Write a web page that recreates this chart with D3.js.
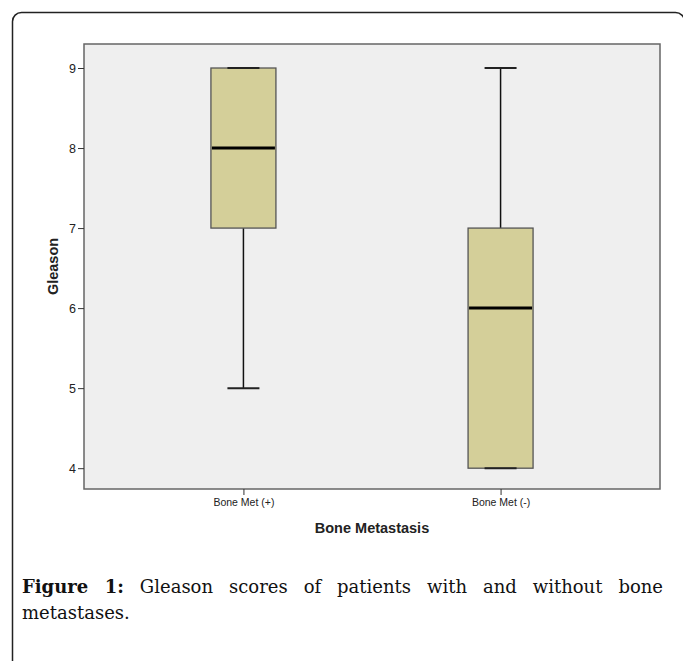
<!DOCTYPE html>
<html>
<head>
<meta charset="utf-8">
<script src="https://cdn.jsdelivr.net/npm/d3@7"></script>
<style>
  body { margin: 0; background: #fff; }
  #wrap { position: relative; width: 683px; height: 661px; overflow: hidden; }
  #chart { position: absolute; left: 0; top: 0; }
  .caption {
    position: absolute; left: 22px; width: 641px;
    font-family: "DejaVu Serif", "Liberation Serif", serif;
    font-size: 18px; color: #111; line-height: 26px;
  }
  .caption .l1 { text-align: justify; text-align-last: justify; }
  .caption b { font-weight: bold; }
</style>
</head>
<body>
<div id="wrap">
  <div id="chart"></div>
  <div class="caption" style="top:574px">
    <div class="l1"><b>Figure 1:</b> Gleason scores of patients with and without bone</div>
    <div>metastases.</div>
  </div>
</div>
<script>
// data
const categories = ["Bone Met (+)", "Bone Met (-)"];
const mins    = [5, 4];
const q1s     = [7, 4];
const medians = [8, 6];
const q3s     = [9, 7];
const maxs    = [9, 9];
const yTicks  = [4, 5, 6, 7, 8, 9];

const boxes = categories.map((c, i) => ({
  name: c, min: mins[i], q1: q1s[i], median: medians[i], q3: q3s[i], max: maxs[i]
}));

const W = 683, H = 661;
const plot = {left: 84, right: 660, top: 44, bottom: 489};

const svg = d3.select("#chart").append("svg")
  .attr("width", W)
  .attr("height", H);

// outer frame (cut at right/bottom like the page crop)
svg.append("rect")
  .attr("x", 12.5).attr("y", 12.5)
  .attr("width", 672).attr("height", 720)
  .attr("rx", 9)
  .attr("fill", "none")
  .attr("stroke", "#222")
  .attr("stroke-width", 1.5);

const x = d3.scalePoint()
  .domain(categories)
  .range([plot.left, plot.right])
  .padding(0.62);

const y = d3.scaleLinear()
  .domain([3.74, 9.3])
  .range([plot.bottom, plot.top]);

// plot background
svg.append("rect")
  .attr("x", plot.left).attr("y", plot.top)
  .attr("width", plot.right - plot.left)
  .attr("height", plot.bottom - plot.top)
  .attr("fill", "#efefef")
  .attr("stroke", "#666")
  .attr("stroke-width", 1.5);

// y axis
const yAxis = svg.append("g")
  .attr("transform", `translate(${plot.left},0)`)
  .call(d3.axisLeft(y).tickValues(yTicks).tickSize(6).tickSizeOuter(0).tickPadding(2).tickFormat(d3.format("d")));
yAxis.select(".domain").remove();
yAxis.selectAll(".tick line").attr("stroke", "#333");
yAxis.selectAll("text")
  .attr("font-family", "Liberation Sans, Arial, sans-serif")
  .attr("font-size", 12.5)
  .attr("fill", "#222");

// x axis
const xAxis = svg.append("g")
  .attr("transform", `translate(0,${plot.bottom})`)
  .call(d3.axisBottom(x).tickSize(6).tickPadding(4).tickSizeOuter(0));
xAxis.select(".domain").remove();
xAxis.selectAll(".tick line").attr("stroke", "#333");
xAxis.selectAll("text")
  .attr("font-family", "Liberation Sans, Arial, sans-serif")
  .attr("font-size", 10.5)
  .attr("fill", "#222");

// axis titles
svg.append("text")
  .attr("transform", `translate(58,${(plot.top + plot.bottom) / 2}) rotate(-90)`)
  .attr("text-anchor", "middle")
  .attr("font-family", "Liberation Sans, Arial, sans-serif")
  .attr("font-weight", "bold")
  .attr("font-size", 14.5)
  .attr("fill", "#222")
  .text("Gleason");

svg.append("text")
  .attr("x", (plot.left + plot.right) / 2)
  .attr("y", 533)
  .attr("text-anchor", "middle")
  .attr("font-family", "Liberation Sans, Arial, sans-serif")
  .attr("font-weight", "bold")
  .attr("font-size", 14.5)
  .attr("fill", "#222")
  .text("Bone Metastasis");

const boxW = 65, capW = 32;

const g = svg.selectAll(".box")
  .data(boxes)
  .enter().append("g")
  .attr("class", "box");

// whiskers
g.append("line")
  .attr("x1", d => x(d.name)).attr("x2", d => x(d.name))
  .attr("y1", d => y(d.max)).attr("y2", d => y(d.q3))
  .attr("stroke", "#111").attr("stroke-width", 1.5);
g.append("line")
  .attr("x1", d => x(d.name)).attr("x2", d => x(d.name))
  .attr("y1", d => y(d.q1)).attr("y2", d => y(d.min))
  .attr("stroke", "#111").attr("stroke-width", 1.5);

// boxes
g.append("rect")
  .attr("x", d => x(d.name) - boxW / 2)
  .attr("y", d => y(d.q3))
  .attr("width", boxW)
  .attr("height", d => y(d.q1) - y(d.q3))
  .attr("fill", "#d4cf99")
  .attr("stroke", "#555")
  .attr("stroke-width", 1.3);

// caps
g.selectAll(".cap")
  .data(d => [d.min, d.max].map(v => ({name: d.name, v})))
  .enter().append("line")
  .attr("x1", d => x(d.name) - capW / 2).attr("x2", d => x(d.name) + capW / 2)
  .attr("y1", d => y(d.v)).attr("y2", d => y(d.v))
  .attr("stroke", "#222").attr("stroke-width", 2);

// medians
g.append("line")
  .attr("x1", d => x(d.name) - boxW / 2 + 1).attr("x2", d => x(d.name) + boxW / 2 - 1)
  .attr("y1", d => y(d.median)).attr("y2", d => y(d.median))
  .attr("stroke", "#000").attr("stroke-width", 3);
</script>
</body>
</html>
